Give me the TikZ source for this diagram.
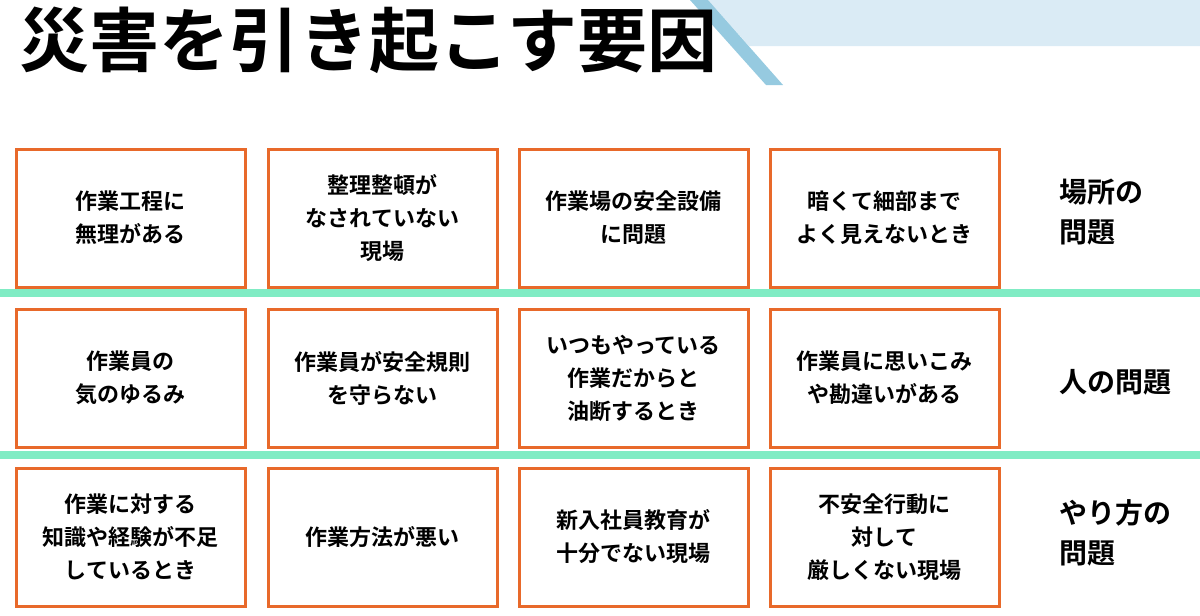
\documentclass[tikz,border=0pt]{standalone}
\usepackage{fontspec}
\setmainfont{Noto Sans CJK JP}[BoldFont={* Bold}]
\definecolor{boxorange}{RGB}{232,105,42}
\definecolor{bandgreen}{RGB}{128,236,196}
\definecolor{skylight}{RGB}{218,235,245}
\definecolor{skydark}{RGB}{150,202,224}
\tikzset{
  cause/.style={draw=boxorange, line width=1.5pt, minimum width=114.5pt, minimum height=69pt,
    align=center, font=\bfseries\fontsize{11}{16.5}\selectfont, inner sep=0pt},
  group/.style={align=left, font=\bfseries\fontsize{14}{20}\selectfont, anchor=west},
}
\begin{document}
\begin{tikzpicture}[x=0.5pt,y=-0.5pt]
\useasboundingbox (0,0) rectangle (1200,616);

% background
\fill[skylight] (708,0) -- (1200,0) -- (1200,46) -- (749,46) -- cycle;
\fill[skydark] (690,0) -- (708,0) -- (783,85) -- (766,85) -- cycle;
\fill[bandgreen] (0,289) rectangle (1200,297);
\fill[bandgreen] (0,451) rectangle (1200,459);

\node[anchor=west, font=\bfseries\fontsize{35}{35}\selectfont] (title) at (12,40) {災害を引き起こす要因};

% row 1
\node[cause] (a1) at (130.5,218) {作業工程に\\無理がある};
\node[cause] (a2) at (382.5,218) {整理整頓が\\なされていない\\現場};
\node[cause] (a3) at (633.5,218) {作業場の安全設備\\に問題};
\node[cause] (a4) at (884.5,218) {暗くて細部まで\\よく見えないとき};
% row 2
\node[cause] (b1) at (130.5,378) {作業員の\\気のゆるみ};
\node[cause] (b2) at (382.5,378) {作業員が安全規則\\を守らない};
\node[cause] (b3) at (633.5,378) {いつもやっている\\作業だからと\\油断するとき};
\node[cause] (b4) at (884.5,378) {作業員に思いこみ\\や勘違いがある};
% row 3
\node[cause] (c1) at (130.5,537) {作業に対する\\知識や経験が不足\\しているとき};
\node[cause] (c2) at (382.5,537) {作業方法が悪い};
\node[cause] (c3) at (633.5,537) {新入社員教育が\\十分でない現場};
\node[cause] (c4) at (884.5,537) {不安全行動に\\対して\\厳しくない現場};

% groups
\node[group] (place) at (1052,212) {場所の\\問題};
\node[group] (person) at (1052,382) {人の問題};
\node[group] (method) at (1052,533) {やり方の\\問題};
\end{tikzpicture}
\end{document}
